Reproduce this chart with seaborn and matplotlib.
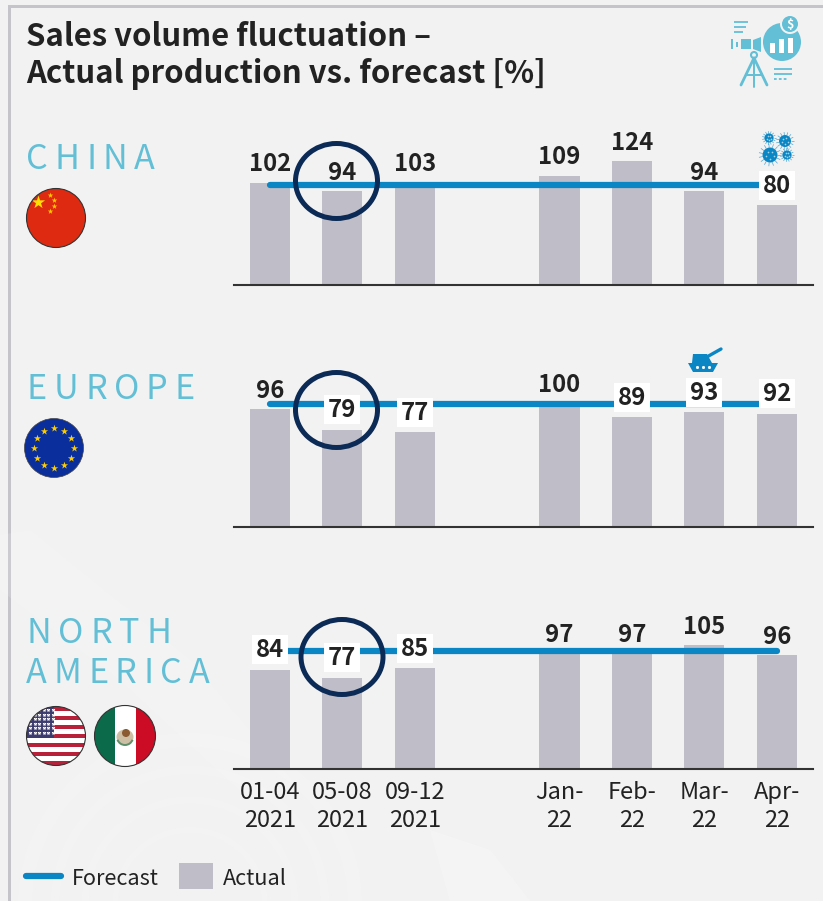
import numpy as np
import pandas as pd
import matplotlib
matplotlib.use("Agg")
import matplotlib.pyplot as plt
from matplotlib.patches import Circle, Rectangle, Polygon, Ellipse, Wedge
from matplotlib.collections import LineCollection
import seaborn as sns

# ---- values ----
positions = [0, 1, 2, 4, 5, 6, 7]
periods = ["01-04\n2021", "05-08\n2021", "09-12\n2021", "Jan-\n22", "Feb-\n22", "Mar-\n22", "Apr-\n22"]
china_actual = [102, 94, 103, 109, 124, 94, 80]
europe_actual = [96, 79, 77, 100, 89, 93, 92]
america_actual = [84, 77, 85, 97, 97, 105, 96]
china_forecast = [100, 100, 100, 100, 100, 100, 100]
europe_forecast = [100, 100, 100, 100, 100, 100, 100]
america_forecast = [100, 100, 100, 100, 100, 100, 100]

# ---- layout, in pixels of the 823x901 canvas ----
W, H = 823, 901
PANELS = [
    dict(name="china", actual=china_actual, forecast=china_forecast, axis_y=285, scale=1.0,
         baselines=[171, 180, 171, 164, 150, 180, 193],
         boxed=[False, False, False, False, False, False, True], ring=(336.5, 181, 41, 37.5)),
    dict(name="europe", actual=europe_actual, forecast=europe_forecast, axis_y=527, scale=1.233,
         baselines=[398, 417, 420, 392, 405, 400, 401],
         boxed=[False, True, True, False, True, True, True], ring=(336.5, 410, 41, 37.5)),
    dict(name="america", actual=america_actual, forecast=america_forecast, axis_y=769, scale=1.183,
         baselines=[657, 665, 656, 642, 642, 634, 644],
         boxed=[True, True, True, False, False, False, False], ring=(342, 657, 41, 37.5)),
]
AX_LEFT, AX_RIGHT = 233.6, 813.0
BAR_W = 0.555

BG = "#f2f2f2"
BAR = "#bfbdc7"
LINE = "#0a86c4"
NAVY = "#0b2a55"
TEAL = "#62bfd6"
INK = "#222222"
EDGE = "#c5c4cb"

sns.set_theme(style="white")
FONT = ["Noto Sans CJK SC", "DejaVu Sans"]
plt.rcParams["font.family"] = FONT

fig = plt.figure(figsize=(W / 100, H / 100), dpi=100, facecolor=BG)

# Full-canvas layer addressed in pixels, for everything that is not a chart mark.
back = fig.add_axes([0, 0, 1, 1], zorder=0)
back.set_xlim(0, W); back.set_ylim(H, 0); back.axis("off")
over = fig.add_axes([0, 0, 1, 1], zorder=10)
over.set_xlim(0, W); over.set_ylim(H, 0); over.axis("off"); over.patch.set_alpha(0)

# Frame on the top and left edge
back.add_patch(Rectangle((9, 5), W, 2.5, color=EDGE, lw=0))
back.add_patch(Rectangle((8.5, 5), 2.5, H, color=EDGE, lw=0))

# Pale lens shapes washed into the backdrop
for r, lw in [(165, 10), (135, 6), (105, 5), (75, 4)]:
    back.add_patch(Circle((190, 905), r, fill=False, ec="white", lw=lw, alpha=0.13))
back.add_patch(Polygon([(0, 535), (30, 530), (190, 660), (300, 790), (250, 800), (120, 680), (0, 590)],
                       color="white", alpha=0.12, lw=0))
back.add_patch(Polygon([(430, 830), (490, 850), (530, 901), (450, 901)], color="white", alpha=0.22, lw=0))

# Bars, forecast line and baseline of each region
for i, p in enumerate(PANELS):
    ymax = 135
    top_px = p["axis_y"] - ymax * p["scale"]
    ax = fig.add_axes([AX_LEFT / W, 1 - p["axis_y"] / H, (AX_RIGHT - AX_LEFT) / W, (p["axis_y"] - top_px) / H], zorder=5)
    ax.patch.set_alpha(0)
    frame = pd.DataFrame({"pos": positions, "actual": p["actual"], "forecast": p["forecast"]})
    sns.barplot(data=frame, x="pos", y="actual", native_scale=True, width=BAR_W,
                color=BAR, saturation=1, linewidth=0, ax=ax)
    sns.lineplot(data=frame, x="pos", y="forecast", color=LINE, lw=4.5, ax=ax,
                 solid_capstyle="round", zorder=4, errorbar=None)
    ax.set_xlim(-0.5, 7.5)
    ax.set_ylim(0, ymax)
    ax.set_xlabel(""); ax.set_ylabel("")
    ax.set_yticks([])
    sns.despine(ax=ax, left=True)
    ax.spines["bottom"].set_color("#333333")
    ax.spines["bottom"].set_linewidth(1.5)
    ax.tick_params(axis="x", length=0)
    if i == len(PANELS) - 1:
        ax.set_xticks(positions, periods, fontsize=17, color=INK, linespacing=1.31)
        ax.tick_params(axis="x", pad=8.5)
    else:
        ax.set_xticks([])

    # Value labels, on a white plate where they sit across the line
    dx = (AX_RIGHT - AX_LEFT) / 8
    for pos, val, base, boxed in zip(positions, p["actual"], p["baselines"], p["boxed"]):
        cx = AX_LEFT + (pos + 0.5) * dx
        if boxed:
            over.add_patch(Rectangle((cx - 18, base - 22), 36, 29, color="white", lw=0, zorder=2))
        over.text(cx, base, str(val), ha="center", va="baseline", fontsize=17.2,
                  fontweight="bold", color=INK, zorder=3)
    cx, cy, rx, ry = p["ring"]
    over.add_patch(Ellipse((cx, cy), 2 * rx, 2 * ry, fill=False, ec=NAVY, lw=3.6, zorder=4))

# Title
over.text(26, 83, "Sales volume fluctuation –\nActual production vs. forecast [%]",
          fontsize=22.4, fontweight="bold", color=INK, ha="left", va="baseline", linespacing=1.2)


def tracked(x, y, word, gap=6.7):
    """Write a word letter by letter with wide tracking."""
    rend = fig.canvas.get_renderer()
    for ch in word:
        t = over.text(x, y, ch, fontsize=24.6, color=TEAL, ha="left", va="baseline")
        x += t.get_window_extent(rend).width + gap


tracked(26, 169, "CHINA")
tracked(27, 399, "EUROPE")
tracked(27, 643, "NORTH")
tracked(26, 683, "AMERICA")


def disc(center, r):
    """Outlined round badge; returns the circle used to clip its contents."""
    c = Circle(center, r, fc="none", ec="#333333", lw=0.8, zorder=6)
    over.add_patch(c)
    return c


# China
disc((56, 218), 29.5)
over.add_patch(Circle((56, 218), 29.5, color="#de2a10", lw=0, zorder=1))
over.scatter([38], [202], marker="*", s=100, color="#ffe000", lw=0, zorder=2)
over.scatter([50, 54, 54, 50], [195, 200, 206, 211], marker="*", s=18, color="#ffc800", lw=0, zorder=2)

# Europe
over.add_patch(Circle((54, 448), 29.5, color="#0a2f9c", ec="#444444", lw=0.5, zorder=1))
ang = np.deg2rad(np.arange(0, 360, 30))
over.scatter(54 + 20 * np.cos(ang), 448 + 20 * np.sin(ang), marker="*", s=30, color="#ffcc00", lw=0, zorder=2)

# United States
us = Circle((56, 736), 29.5, transform=over.transData)
top = 706.5
for k in range(13):
    s = Rectangle((20, top + k * 59 / 13), 72, 59 / 13, color="#b8213a" if k % 2 == 0 else "white", lw=0, zorder=1)
    over.add_patch(s); s.set_clip_path(us)
canton = Rectangle((20, 706), 34, 32, color="#3c3b6e", lw=0, zorder=2)
over.add_patch(canton); canton.set_clip_path(us)
sx, sy = np.meshgrid(np.arange(30, 54, 4.6), np.arange(710, 737, 4.6))
stars = over.scatter(sx.ravel(), sy.ravel(), marker="*", s=9, color="white", lw=0, zorder=3)
stars.set_clip_path(us)
disc((56, 736), 29.5)

# Mexico
mx = Circle((125, 736), 30.5, transform=over.transData)
for x0, w, col in [(90, 25, "#0b6a4a"), (115, 21, "white"), (136, 25, "#cc0b25")]:
    s = Rectangle((x0, 700), w, 72, color=col, lw=0, zorder=1)
    over.add_patch(s); s.set_clip_path(mx)
over.add_patch(Ellipse((125, 737), 17, 15, color="#cdbfa6", lw=0, zorder=2))
over.add_patch(Ellipse((126, 733), 8, 8, color="#8a5a32", lw=0, zorder=3))
over.add_patch(Wedge((125, 737), 9, 20, 160, width=2, color="#5f8f6a", lw=0, zorder=3))
disc((125, 736), 30.5)

# Telescope and chart emblem
over.add_patch(Circle((782, 42), 19, color=TEAL, lw=0, zorder=1))
over.add_patch(Circle((790, 24), 10, color=BG, lw=0, zorder=2))
over.add_patch(Circle((790, 24), 8, color=TEAL, lw=0, zorder=3))
over.text(790, 24.5, "$", color="white", fontsize=9, fontweight="bold", ha="center", va="center", zorder=4)
for x0, y0 in [(770, 43), (779, 39), (788, 38)]:
    over.add_patch(Rectangle((x0, y0), 5, 53 - y0, color="white", lw=0, zorder=2))
over.add_patch(Rectangle((741, 39), 10, 10, color=TEAL, lw=0))
over.add_patch(Polygon([(753, 40), (761, 37), (761, 52), (753, 49)], color=TEAL, lw=0))
over.add_patch(Rectangle((731, 39), 2, 10, color=TEAL, lw=0))
over.add_patch(Rectangle((736, 42), 2.5, 5, color=TEAL, lw=0))
over.add_patch(Circle((754, 55), 3, fc="none", ec=TEAL, lw=1.5))
for x0, y0, x1, y1, lw in [(754, 58, 741, 85, 2), (754, 58, 767, 85, 2), (754, 58, 754, 87, 1.4), (747, 75, 762, 75, 1.4)]:
    over.plot([x0, x1], [y0, y1], color=TEAL, lw=lw, solid_capstyle="round")
for x0, x1, y0 in [(734, 748, 22), (734, 746, 27), (734, 743, 32), (774, 792, 69), (774, 792, 74)]:
    over.plot([x0, x1], [y0, y0], color=TEAL, lw=1.3, solid_capstyle="butt")
over.plot([774, 787], [79, 79], color=TEAL, lw=1.3, ls=(0, (1.5, 1.2)))


def virus(x, y, r):
    """Spiked virus glyph."""
    a = np.deg2rad(np.arange(0, 360, 24))
    segs = [[(x + r * np.cos(t), y + r * np.sin(t)), (x + 1.5 * r * np.cos(t), y + 1.5 * r * np.sin(t))] for t in a]
    over.add_collection(LineCollection(segs, colors=LINE, linewidths=0.5, alpha=0.7, zorder=3))
    over.add_patch(Circle((x, y), r, color=LINE, lw=0, zorder=3))
    b = np.deg2rad(np.array([20, 95, 160, 230, 300]))
    over.scatter(x + 0.5 * r * np.cos(b), y + 0.5 * r * np.sin(b), s=1.5, color="#9fd3ec", lw=0, zorder=4)


for vx, vy, vr in [(769, 138, 4.6), (785, 141, 6), (770, 155, 7.5), (787, 155, 4.6)]:
    virus(vx, vy, vr)

# Tank
over.add_patch(Polygon([(688, 363), (718, 363), (713, 372), (693, 372)], color=LINE, lw=0, zorder=3))
over.add_patch(Polygon([(693, 354), (707, 354), (712, 363), (692, 363)], color=LINE, lw=0, zorder=3))
over.plot([705, 721], [358, 349], color=LINE, lw=2.4, solid_capstyle="round", zorder=3)
over.scatter([697, 703, 709], [367, 367, 367], s=5, color="white", lw=0, zorder=4)

# Legend
over.plot([26, 61], [876, 876], color=LINE, lw=4.5, solid_capstyle="round")
over.text(72, 885, "Forecast", fontsize=15.6, color=INK, ha="left", va="baseline")
over.add_patch(Rectangle((179, 863), 34, 26, color=BAR, lw=0))
over.text(223, 885, "Actual", fontsize=15.6, color=INK, ha="left", va="baseline")

fig.savefig("out.png", dpi=100, facecolor=BG)
